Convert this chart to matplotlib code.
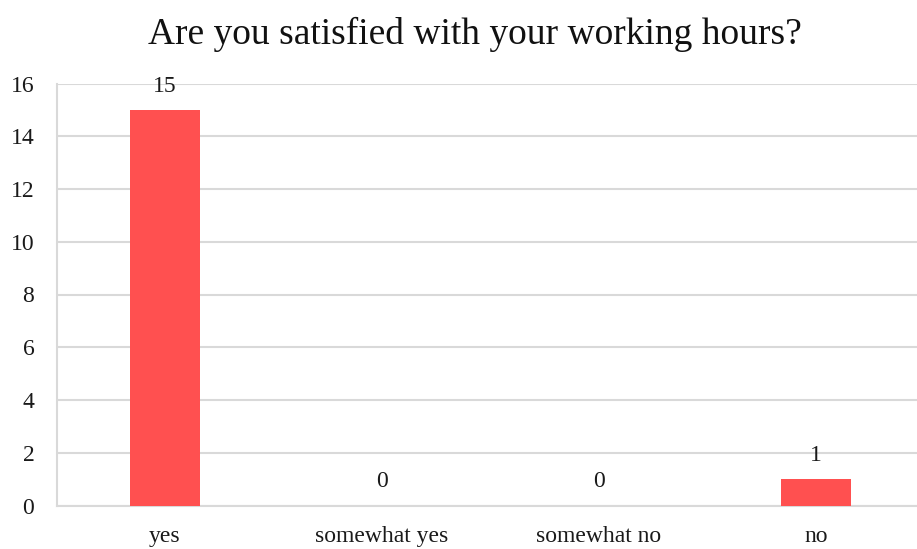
import matplotlib
matplotlib.use("Agg")
import matplotlib.pyplot as plt

categories = ["yes", "somewhat yes", "somewhat no", "no"]
counts = [15, 0, 0, 1]
yticks = [0, 2, 4, 6, 8, 10, 12, 14, 16]
title = "Are you satisfied with your working hours?"

plt.rcParams["font.family"] = ["Liberation Serif", "DejaVu Serif"]

W, H = 917, 549
fig = plt.figure(figsize=(W / 100, H / 100), dpi=100)
left, right = 56.5 / W, 924.5 / W
bottom, top = 1 - 505.5 / H, 1 - 83.5 / H
ax = fig.add_axes([left, bottom, right - left, top - bottom])

x = list(range(len(categories)))
bars = ax.bar(x, counts, width=0.32, color="#FF5050", zorder=3)
for xi, v in zip(x, counts):
    ax.text(xi, v + 0.5, str(v), ha="center", va="bottom", fontsize=17, color="#1a1a1a")

ax.set_xlim(-0.5, len(categories) - 0.5)
ax.set_ylim(0, 16)
ax.set_yticks(yticks)
ax.set_yticklabels([str(t) for t in yticks], fontsize=17)
ax.set_xticks(x)
ax.set_xticklabels(categories, fontsize=17)
ax.tick_params(axis="y", length=0, pad=16, colors="#1a1a1a")
ax.tick_params(axis="x", length=0, pad=15, colors="#1a1a1a")
ax.grid(axis="y", color="#d9d9d9", linewidth=1.5, zorder=0)
ax.set_axisbelow(True)
for s in ["top", "right"]:
    ax.spines[s].set_visible(False)
ax.spines["left"].set_color("#d9d9d9")
ax.spines["left"].set_linewidth(1.5)
ax.spines["bottom"].set_color("#d9d9d9")
ax.spines["bottom"].set_linewidth(1.5)

fig.text(475 / W, 1 - 34 / H, title, ha="center", va="center", fontsize=27, color="#111111")

fig.savefig("out.png", dpi=100)
